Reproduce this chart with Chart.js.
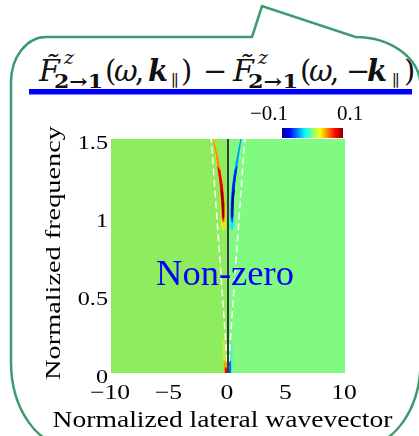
<!DOCTYPE html>
<html>
<head>
<meta charset="utf-8">
<script src="https://cdn.jsdelivr.net/npm/chart.js@4.4.1/dist/chart.umd.min.js"></script>
<style>
  html,body{margin:0;padding:0;background:#fff;}
  #wrap{position:relative;width:419px;height:436px;overflow:hidden;}
  #deco{position:absolute;left:0;top:0;}
  #map{position:absolute;left:0;top:0;}
</style>
</head>
<body>
<div id="wrap">
  <svg id="deco" width="419" height="436" viewBox="0 0 419 436">
    <path d="M252 37 L262 6 L355.5 37 A65 49 0 0 1 420.5 86 L420.5 362 A60 85 0 0 1 360.5 447 L71 447 A60 85 0 0 1 11 362 L11 82 A35 45 0 0 1 46 37 Z"
          fill="none" stroke="#3d9a6c" stroke-width="2.5"/>
    <g font-family="DejaVu Serif" fill="#111">
      <text x="39" y="81" font-size="30" font-style="italic">F&#x303;</text>
      <text x="64" y="64" font-size="19" font-style="italic">z</text>
      <text x="54" y="88" font-size="19" font-weight="bold" textLength="49" lengthAdjust="spacingAndGlyphs">2→1</text>
      <text x="105" y="81" font-size="29">(</text>
      <text x="114" y="81" font-size="29" font-style="italic">ω</text>
      <text x="135" y="81" font-size="29">,</text>
      <text x="148" y="81" font-size="29" font-style="italic" font-weight="bold">k</text>
      <text x="171" y="86" font-size="16">∥</text>
      <text x="181" y="81" font-size="29">)</text>
      <text x="203" y="81" font-size="29">−</text>
      <text x="233" y="81" font-size="30" font-style="italic">F&#x303;</text>
      <text x="258" y="64" font-size="19" font-style="italic">z</text>
      <text x="248" y="88" font-size="19" font-weight="bold" textLength="50" lengthAdjust="spacingAndGlyphs">2→1</text>
      <text x="300" y="81" font-size="29">(</text>
      <text x="309" y="81" font-size="29" font-style="italic">ω</text>
      <text x="330" y="81" font-size="29">,</text>
      <text x="346" y="81" font-size="29">−</text>
      <text x="367" y="81" font-size="29" font-style="italic" font-weight="bold">k</text>
      <text x="392" y="86" font-size="16">∥</text>
      <text x="404" y="81" font-size="29">)</text>
    </g>
    <rect x="29" y="89" width="383" height="5.5" fill="#0000ff"/>
  </svg>
  <canvas id="map" width="419" height="436"></canvas>
</div>
<script>
// axis ranges and ticks
const kLim = [-10, 10];
const wLim = [0, 1.5];
const kTicks = [-10, -5, 0, 5, 10];
const wTicks = [0, 0.5, 1, 1.5];
const cbarTicks = [-0.1, 0.1];

// background level on each side of k = 0
const bgLeft  = [[-11,-0.1],[0,-0.1],[0,1.6],[-11,1.6]];
const bgRight = [[0,-0.1],[11,-0.1],[11,1.6],[0,1.6]];

// upper branch, positive lobe (k < 0)
const posHalo = [[-1.33,1.5],[-1.02,1.36],[-0.78,1.24],[-0.64,1.1],[-0.62,1.0],[-0.6,0.94],[-0.42,0.91],[-0.2,0.93],[-0.18,1.0],[-0.26,1.12],[-0.52,1.26],[-0.88,1.38],[-1.17,1.5]];
const posMid  = [[-1.29,1.5],[-0.98,1.36],[-0.75,1.24],[-0.6,1.1],[-0.55,1.0],[-0.45,0.96],[-0.3,0.97],[-0.25,1.04],[-0.32,1.14],[-0.56,1.27],[-0.9,1.4],[-1.21,1.5]];
const posCore = [[-0.92,1.33],[-0.72,1.22],[-0.57,1.1],[-0.5,1.0],[-0.42,0.97],[-0.3,1.0],[-0.31,1.08],[-0.44,1.2],[-0.66,1.3]];
const posPeak = [[-0.64,1.18],[-0.53,1.08],[-0.47,1.0],[-0.38,1.0],[-0.36,1.07],[-0.46,1.16]];

// upper branch, negative lobe (k > 0)
const negHalo = [[1.18,1.5],[0.9,1.36],[0.66,1.24],[0.52,1.12],[0.52,1.0],[0.54,0.94],[0.38,0.91],[0.17,0.93],[0.13,1.0],[0.2,1.12],[0.43,1.26],[0.76,1.38],[1.03,1.5]];
const negMid  = [[1.14,1.5],[0.86,1.36],[0.63,1.24],[0.49,1.1],[0.47,1.0],[0.4,0.96],[0.26,0.97],[0.2,1.04],[0.27,1.14],[0.47,1.27],[0.79,1.4],[1.07,1.5]];
const negCore = [[0.82,1.33],[0.62,1.22],[0.48,1.1],[0.44,1.0],[0.37,0.97],[0.26,1.0],[0.26,1.08],[0.37,1.2],[0.57,1.3]];
const negPeak = [[0.57,1.18],[0.46,1.08],[0.41,1.0],[0.32,1.0],[0.3,1.07],[0.39,1.16]];

// low-frequency branch near the origin
const posLowHalo = [[-0.5,0.22],[-0.45,0.1],[-0.42,0.0],[-0.04,0.0],[-0.12,0.1],[-0.22,0.22]];
const posLowCore = [[-0.4,0.08],[-0.36,0.0],[-0.05,0.0],[-0.12,0.07]];
const posLowPeak = [[-0.28,0.035],[-0.26,0.0],[-0.06,0.0],[-0.1,0.035]];
const negLowHalo = [[0.02,0.0],[0.36,0.0],[0.36,0.1],[0.42,0.2],[0.2,0.2],[0.1,0.1]];
const negLowCore = [[0.03,0.0],[0.3,0.0],[0.26,0.08],[0.08,0.07]];

// light lines and the k = 0 axis
const lightLeft  = [[0,0],[-1.43,1.5]];
const lightRight = [[0,0],[1.43,1.5]];
const zeroLine   = [[0,0],[0,1.5]];

const pts = a => a.map(([x,y]) => ({x, y}));
const patch = (a, color, order) => ({data: pts(a), backgroundColor: color, borderWidth: 0, fill: 'shape', pointRadius: 0, order});
const stroke = (a, color, width, dash, order) => ({data: pts(a), borderColor: color, borderWidth: width, borderDash: dash, fill: false, pointRadius: 0, order});

const datasets = [
  stroke(zeroLine, '#3a3a3a', 2, [], 0),
  stroke(lightLeft, '#ffffff', 1.5, [7,4], 1),
  stroke(lightRight, '#ffffff', 1.5, [7,4], 1),
  patch(posPeak, '#8a0000', 2),
  patch(negPeak, '#00008a', 2),
  patch(posCore, '#e00000', 3),
  patch(negCore, '#0018e8', 3),
  patch(posMid, '#ff8800', 4),
  patch(negMid, '#0094ff', 4),
  patch(posHalo, 'rgba(255,240,0,0.7)', 5),
  patch(negHalo, 'rgba(0,230,255,0.7)', 5),
  patch(posLowPeak, '#e01000', 2),
  patch(posLowCore, 'rgba(255,150,0,0.85)', 3),
  patch(negLowCore, 'rgba(0,90,255,0.9)', 3),
  patch(posLowHalo, 'rgba(235,245,40,0.45)', 5),
  patch(negLowHalo, 'rgba(40,225,255,0.4)', 5),
  patch(bgLeft, '#8eed5e', 10),
  patch(bgRight, '#80fa80', 10)
];

function label(ctx, s, x, y, font, o){
  ctx.save();
  ctx.translate(x, y);
  if (o.rot) ctx.rotate(o.rot);
  ctx.scale(o.sx || 1, o.sy || 1);
  ctx.font = font;
  ctx.textAlign = o.align || 'center';
  ctx.textBaseline = 'alphabetic';
  ctx.fillStyle = o.color || '#000';
  ctx.fillText(s, 0, 0);
  ctx.restore();
}
const fmt = v => (v < 0 ? '\u2212' : '') + Math.abs(v);

// soft edges on the filled patches only
const soften = {
  id: 'soften',
  beforeDraw(chart){ chart.ctx.filter = 'blur(0.7px)'; },
  beforeDatasetsDraw(chart){ chart.ctx.filter = 'none'; }
};

const decor = {
  id: 'decor',
  afterDraw(chart){
    const {ctx, scales: {x, y}} = chart;
    const serif = 'Liberation Serif';
    kTicks.forEach(v => label(ctx, fmt(v), x.getPixelForValue(v) - 1, 399, `21px "${serif}"`, {sx: 1.22}));
    wTicks.forEach(v => label(ctx, String(v), x.left - 3, y.getPixelForValue(v) + 10, `19.5px "${serif}"`, {sx: 1.24, align: 'right'}));
    label(ctx, 'Normalized lateral wavevector', 222.5, 427, `22.6px "${serif}"`, {sx: 1.22});
    label(ctx, 'Normalized frequency', 60, 253, `28.3px "${serif}"`, {rot: -Math.PI/2, sy: 0.74});

    // colour bar
    const cx0 = 282, cx1 = 343, cy0 = 128, cy1 = 138;
    const g = ctx.createLinearGradient(cx0, 0, cx1, 0);
    [[0,'#00008f'],[0.125,'#0000ff'],[0.375,'#00ffff'],[0.5,'#80ff80'],[0.625,'#ffff00'],[0.875,'#ff0000'],[1,'#800000']]
      .forEach(([p,c]) => g.addColorStop(p, c));
    ctx.fillStyle = g;
    ctx.fillRect(cx0, cy0, cx1 - cx0, cy1 - cy0);
    label(ctx, fmt(cbarTicks[0]), 269, 120, `21px "${serif}"`, {});
    label(ctx, fmt(cbarTicks[1]), 350, 120, `21px "${serif}"`, {});

    label(ctx, 'Non-zero', 225, 285, `36.5px "${serif}"`, {color: '#0000ff'});
  }
};

new Chart(document.getElementById('map'), {
  type: 'line',
  data: {datasets},
  options: {
    responsive: false,
    animation: false,
    devicePixelRatio: 1,
    layout: {padding: {left: 111, right: 74, top: 139, bottom: 63}},
    scales: {
      x: {type: 'linear', min: kLim[0], max: kLim[1], display: false},
      y: {type: 'linear', min: wLim[0], max: wLim[1], display: false}
    },
    plugins: {
      legend: {display: false},
      tooltip: {enabled: false},
      filler: {drawTime: 'beforeDatasetsDraw'}
    }
  },
  plugins: [soften, decor]
});
</script>
</body>
</html>
